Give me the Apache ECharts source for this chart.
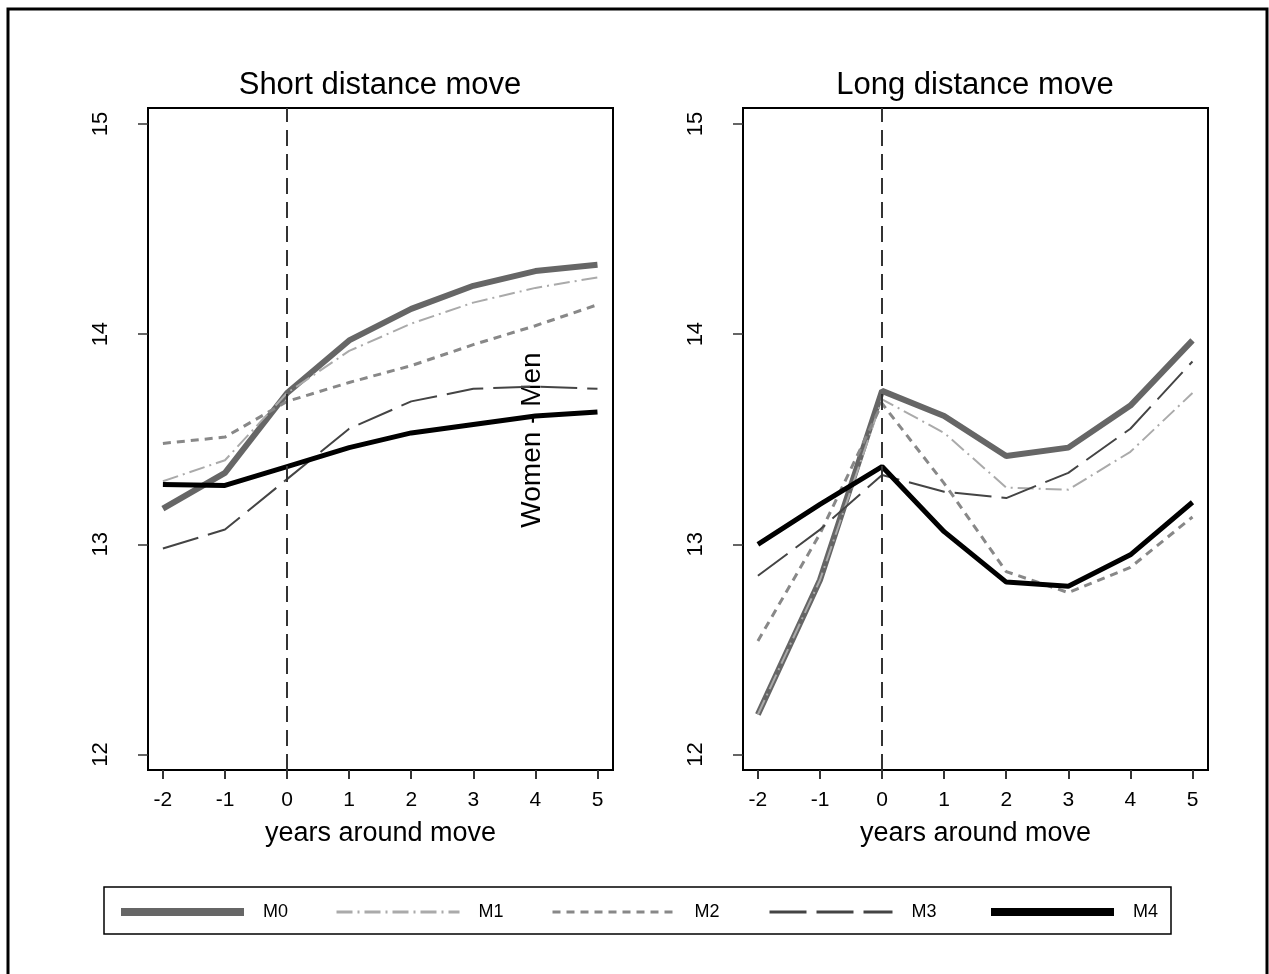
<!DOCTYPE html>
<html>
<head>
<meta charset="utf-8">
<script src="https://cdn.jsdelivr.net/npm/echarts@6/dist/echarts.min.js"></script>
<style>
  html, body { margin: 0; padding: 0; background: #fff; }
  #main { width: 1269px; height: 974px; }
</style>
</head>
<body>
<div id="main"></div>
<script>
// years relative to the move
const years = [-2, -1, 0, 1, 2, 3, 4, 5];
const names = ['M0', 'M1', 'M2', 'M3', 'M4'];
const yTicks = [12, 13, 14, 15];

// short distance move
const shortM0 = [13.17, 13.34, 13.72, 13.97, 14.12, 14.23, 14.30, 14.33];
const shortM1 = [13.30, 13.40, 13.72, 13.92, 14.05, 14.15, 14.22, 14.27];
const shortM2 = [13.48, 13.51, 13.68, 13.77, 13.85, 13.95, 14.04, 14.14];
const shortM3 = [12.98, 13.07, 13.31, 13.55, 13.68, 13.74, 13.75, 13.74];
const shortM4 = [13.285, 13.28, 13.37, 13.46, 13.53, 13.57, 13.61, 13.63];

// long distance move
const longM0 = [12.19, 12.83, 13.73, 13.61, 13.42, 13.46, 13.66, 13.97];
const longM1 = [12.19, 12.83, 13.69, 13.53, 13.27, 13.26, 13.44, 13.72];
const longM2 = [12.54, 13.05, 13.67, 13.29, 12.87, 12.77, 12.89, 13.13];
const longM3 = [12.85, 13.07, 13.33, 13.25, 13.22, 13.34, 13.55, 13.87];
const longM4 = [13.00, 13.19, 13.37, 13.06, 12.82, 12.80, 12.95, 13.20];

const FONT = 'Liberation Sans, Arial, sans-serif';

// line look for each model
const lineLook = [
  { color: '#666666', width: 6, type: 'solid', legendWidth: 8 },
  { color: '#aaaaaa', width: 2, type: [16, 5, 2, 5], legendWidth: 3 },
  { color: '#888888', width: 3, type: [8, 6], legendWidth: 3 },
  { color: '#444444', width: 2, type: [37, 10], legendWidth: 3 },
  { color: '#000000', width: 5, type: 'solid', legendWidth: 8 }
];

const legendLeft = [117, 335, 551, 768, 987];

function panelSeries(idx, sets) {
  return sets.map(function (vals, i) {
    const s = {
      name: names[i],
      type: 'line',
      xAxisIndex: idx,
      yAxisIndex: idx,
      data: years.map(function (x, j) { return [x, vals[j]]; }),
      symbol: 'none',
      silent: true,
      lineStyle: { color: lineLook[i].color, width: lineLook[i].width, type: lineLook[i].type },
      itemStyle: { color: lineLook[i].color }
    };
    if (i === 0) {
      s.markLine = {
        symbol: 'none',
        silent: true,
        label: { show: false },
        lineStyle: { color: '#333333', width: 2, type: [16, 8] },
        data: [{ xAxis: 0 }]
      };
    }
    return s;
  });
}

function xAxisFor(idx) {
  return {
    type: 'value',
    gridIndex: idx,
    min: -2.24,
    max: 5.25,
    name: 'years around move',
    nameLocation: 'middle',
    nameGap: 50,
    nameTextStyle: { fontSize: 27, color: '#000', fontFamily: FONT },
    axisLine: { show: true, onZero: false, lineStyle: { color: '#000', width: 2 } },
    axisTick: { show: true, length: 9, customValues: years, lineStyle: { color: '#333', width: 2 } },
    axisLabel: { customValues: years, fontSize: 21, color: '#000', fontFamily: FONT, margin: 20 },
    splitLine: { show: false }
  };
}

function yAxisFor(idx) {
  return {
    type: 'value',
    gridIndex: idx,
    min: 11.926,
    max: 15.076,
    axisLine: { show: true, onZero: false, lineStyle: { color: '#000', width: 2 } },
    axisTick: { show: true, length: 10, customValues: yTicks, lineStyle: { color: '#333', width: 1.5 } },
    axisLabel: { customValues: yTicks, rotate: 90, fontSize: 22, color: '#000', fontFamily: FONT, margin: 36 },
    splitLine: { show: false }
  };
}

const chart = echarts.init(document.getElementById('main'), null, { renderer: 'canvas' });

const option = {
  backgroundColor: '#ffffff',
  animation: false,
  title: [
    { text: 'Short distance move', left: 380, top: 70, textAlign: 'center', padding: 0,
      textStyle: { fontSize: 31, fontWeight: 'normal', color: '#000', fontFamily: FONT } },
    { text: 'Long distance move', left: 975, top: 70, textAlign: 'center', padding: 0,
      textStyle: { fontSize: 31, fontWeight: 'normal', color: '#000', fontFamily: FONT } }
  ],
  grid: [
    { left: 148, top: 108, width: 465, height: 662, show: true, borderColor: '#000', borderWidth: 2 },
    { left: 743, top: 108, width: 465, height: 662, show: true, borderColor: '#000', borderWidth: 2 }
  ],
  xAxis: [xAxisFor(0), xAxisFor(1)],
  yAxis: [yAxisFor(0), yAxisFor(1)],
  legend: names.map(function (n, i) {
    return {
      data: [n],
      left: legendLeft[i],
      top: 903,
      padding: 0,
      itemWidth: 123,
      itemHeight: 14,
      selectedMode: false,
      itemStyle: { opacity: 0 },
      lineStyle: { width: lineLook[i].legendWidth },
      textStyle: { fontSize: 18, color: '#000', fontFamily: FONT, padding: [0, 0, 0, 14] }
    };
  }),
  graphic: [
    { type: 'rect', silent: true, shape: { x: 8, y: 9, width: 1259, height: 990 },
      style: { fill: 'none', stroke: '#000', lineWidth: 3 } },
    { type: 'rect', silent: true, shape: { x: 104, y: 887, width: 1067, height: 47 },
      style: { fill: 'none', stroke: '#000', lineWidth: 1.5 } },
    { type: 'text', silent: true, x: 532, y: 440, rotation: Math.PI / 2,
      style: { text: 'Women - Men', font: '28px ' + FONT, fill: '#000', align: 'center', verticalAlign: 'middle' } }
  ],
  series: panelSeries(0, [shortM0, shortM1, shortM2, shortM3, shortM4])
    .concat(panelSeries(1, [longM0, longM1, longM2, longM3, longM4]))
};

chart.setOption(option);
</script>
</body>
</html>
